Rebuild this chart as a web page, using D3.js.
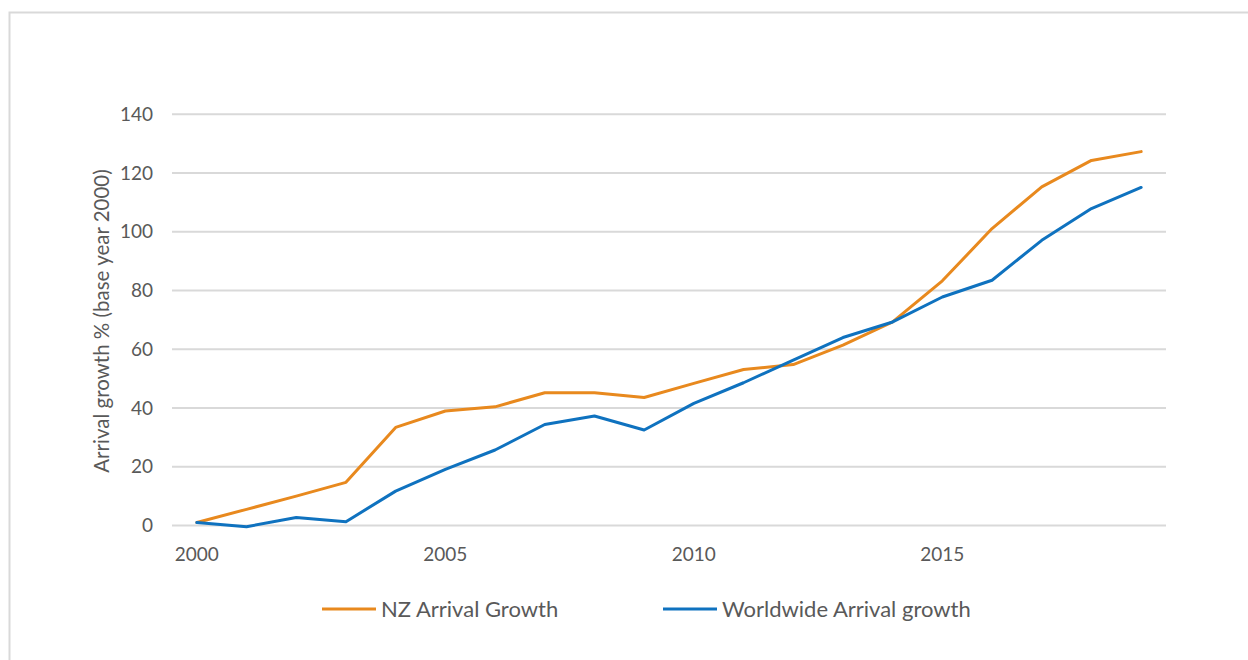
<!DOCTYPE html>
<html>
<head>
  <meta charset="utf-8">
  <title>Arrival growth</title>
  <script src="https://d3js.org/d3.v7.min.js"></script>
  <style>
    body { margin: 0; background: #fff; font-family: Lato, "Open Sans", sans-serif; }
    .grid line { stroke: #d9d9d9; stroke-width: 2px; }
    .lbl { fill: #595959; }
    .series { fill: none; stroke-width: 3px; stroke-linejoin: round; stroke-linecap: round; }
  </style>
</head>
<body>
  <script>
    // Data
    var years = d3.range(2000, 2020);
    var nzGrowth = [1, 5.5, 10, 14.7, 33.4, 39, 40.4, 45.2, 45.2, 43.6,
                    48.4, 53.1, 54.8, 61.4, 69.3, 83.3, 101.1, 115.3, 124.3, 127.3];
    var worldGrowth = [1, -0.4, 2.7, 1.3, 11.7, 19.1, 25.7, 34.4, 37.3, 32.5,
                       41.6, 48.6, 56.3, 64, 69.3, 77.8, 83.5, 97.1, 107.9, 115.1];
    var yTicks = [0, 20, 40, 60, 80, 100, 120, 140];
    var xTickYears = [2000, 2005, 2010, 2015];
    var seriesNames = ["NZ Arrival Growth", "Worldwide Arrival growth"];
    var colors = ["#e8891e", "#0f72bf"];

    var W = 1248, H = 660;
    var svg = d3.select("body").append("svg")
      .attr("width", W)
      .attr("height", H);

    // outer frame
    svg.append("rect")
      .attr("x", 9.5).attr("y", 12.5)
      .attr("width", 1400).attr("height", 800)
      .attr("fill", "none")
      .attr("stroke", "#d9d9d9")
      .attr("stroke-width", 2);

    // Scales
    var x = d3.scaleBand()
      .domain(years)
      .range([172, 1166]);

    var y = d3.scaleLinear()
      .domain([0, 140])
      .range([525.5, 114.3]);

    function cx(yr) { return x(yr) + x.bandwidth() / 2; }

    // gridlines
    svg.append("g").attr("class", "grid")
      .selectAll("line")
      .data(yTicks)
      .enter().append("line")
      .attr("x1", 172).attr("x2", 1166)
      .attr("y1", function(d) { return y(d); })
      .attr("y2", function(d) { return y(d); });

    // y labels
    svg.append("g")
      .selectAll("text")
      .data(yTicks)
      .enter().append("text")
      .attr("class", "lbl")
      .attr("x", 153)
      .attr("y", function(d) { return y(d); })
      .attr("dy", "0.35em")
      .attr("text-anchor", "end")
      .style("font-size", "19px")
      .text(function(d) { return d; });

    // x labels
    svg.append("g")
      .selectAll("text")
      .data(xTickYears)
      .enter().append("text")
      .attr("class", "lbl")
      .attr("x", function(d) { return cx(d); })
      .attr("y", 554)
      .attr("dy", "0.35em")
      .attr("text-anchor", "middle")
      .style("font-size", "19px")
      .text(function(d) { return d; });

    // y axis title
    svg.append("text")
      .attr("class", "lbl")
      .attr("transform", "translate(102,321) rotate(-90)")
      .attr("dy", "0.35em")
      .attr("text-anchor", "middle")
      .style("font-size", "20.5px")
      .text("Arrival growth % (base year 2000)");

    // Lines
    var line = d3.line()
      .x(function(d, i) { return cx(years[i]); })
      .y(function(d) { return y(d); });

    [nzGrowth, worldGrowth].forEach(function(s, i) {
      svg.append("path")
        .datum(s)
        .attr("class", "series")
        .attr("stroke", colors[i])
        .attr("d", line);
    });

    // Legend
    var legendX = [322, 663];
    var legend = svg.selectAll(".legend")
      .data(seriesNames)
      .enter().append("g")
      .attr("class", "legend")
      .attr("transform", function(d, i) { return "translate(" + legendX[i] + ",609)"; });

    legend.append("line")
      .attr("x1", 0).attr("x2", 54)
      .attr("stroke", function(d, i) { return colors[i]; })
      .attr("stroke-width", 3);

    legend.append("text")
      .attr("class", "lbl")
      .attr("x", 59)
      .attr("dy", "0.35em")
      .style("font-size", "22px")
      .text(function(d) { return d; });
  </script>
</body>
</html>
